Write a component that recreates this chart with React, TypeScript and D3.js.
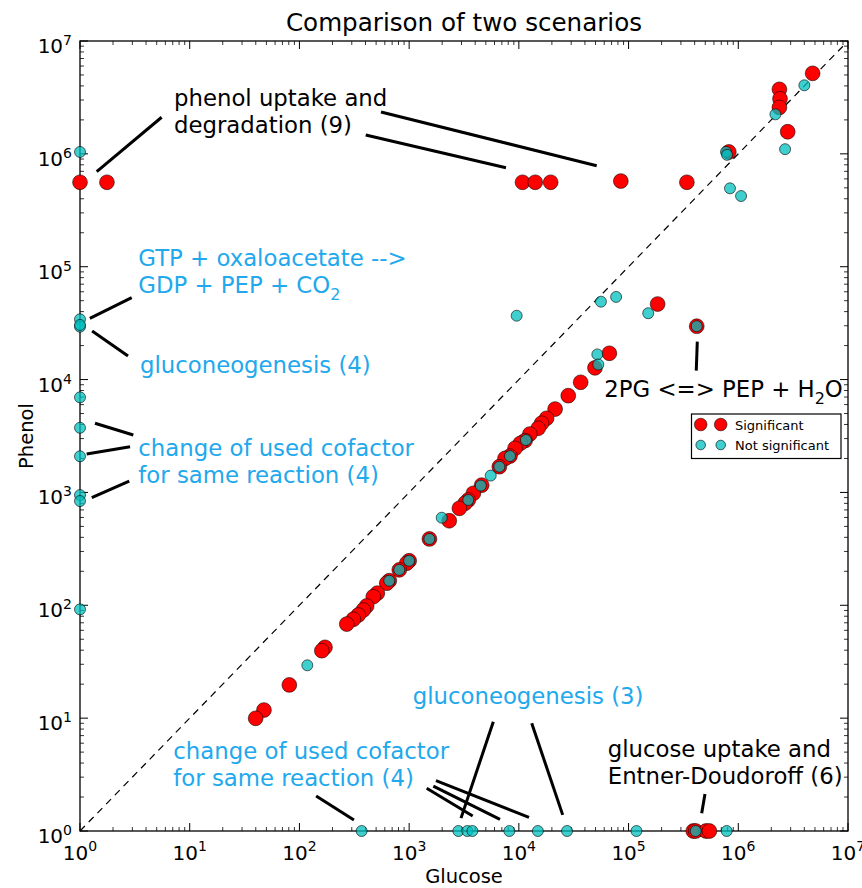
import React from "react";
import * as d3 from "d3";

// ---- data ----
const significant: [number, number][] = [
  [1, 5.6e5], [1.76, 5.6e5],
  [1.08e4, 5.6e5], [1.41e4, 5.6e5], [1.95e4, 5.6e5], [8.5e4, 5.74e5], [3.4e5, 5.6e5],
  [8.2e5, 1.04e6],
  [2.37e6, 3.73e6], [2.4e6, 3.08e6], [2.37e6, 2.58e6], [2.82e6, 1.57e6], [4.76e6, 5.17e6],
  [1.84e5, 4.67e4], [4.18e5, 2.97e4],
  [66800, 17100], [49400, 12700], [36600, 9460], [28200, 7200], [21400, 5480],
  [17900, 4540], [16100, 4100], [15000, 3700], [12600, 3290], [11400, 2880], [10300, 2720],
  [9230, 2460], [8300, 2100], [7480, 2000], [6640, 1690], [4580, 1160], [3850, 982],
  [3460, 857], [3230, 801], [2870, 723], [2320, 561], [1530, 387], [1000, 248],
  [951, 236], [813, 206], [659, 165], [625, 157], [513, 128], [471, 119],
  [410, 98.6], [382, 90.8], [344, 82], [310, 75.2], [270, 68.2], [171, 42.4],
  [160, 39.6], [80.9, 19.7], [47.5, 11.8], [39.9, 9.97],
  [3.89e5, 1], [4.09e5, 1], [5.08e5, 1], [5.45e5, 1],
];

const notSignificant: [number, number][] = [
  [1, 1.04e6], [1, 34200], [1, 29400], [1, 30500], [1, 6960], [1, 3740], [1, 2090],
  [1, 948], [1, 839], [1, 92],
  [7.73e5, 1.04e6], [7.9e5, 9.8e5], [8.4e5, 4.95e5], [1.06e6, 4.23e5],
  [2.18e6, 2.24e6], [2.67e6, 1.1e6], [4.0e6, 4.05e6],
  [9550, 36800], [5.6e4, 4.9e4], [7.7e4, 5.4e4], [1.51e5, 3.87e4], [4.18e5, 2.97e4],
  [51900, 16700], [53000, 13600], [11600, 2910], [8300, 2100], [6640, 1690],
  [5540, 1410], [4500, 1150], [3460, 857], [1980, 597], [1530, 387], [1000, 248],
  [813, 206], [659, 165], [118, 29.4],
  [369, 1], [2810, 1], [3390, 1], [3770, 1], [8190, 1], [14900, 1], [27500, 1],
  [1.18e5, 1], [4.09e5, 1], [7.84e5, 1],
];

const decades = [0, 1, 2, 3, 4, 5, 6, 7];

type Label = { x: number; y: number; lines: string[][]; color: string };
const BLACK = "#000000";
const BLUE = "#22a8ec";

// each line is list of segments; segment "_2" means subscript
const labels: Label[] = [
  { x: 7.19, y: 2.65e6, lines: [["phenol uptake and"], ["degradation (9)"]], color: BLACK },
  { x: 3.4, y: 1.01e5, lines: [["GTP + oxaloacetate -->"], ["GDP + PEP + CO", "_2"]], color: BLUE },
  { x: 3.52, y: 11370, lines: [["gluconeogenesis (4)"]], color: BLUE },
  { x: 3.4, y: 2100, lines: [["change of used cofactor"], ["for same reaction (4)"]], color: BLUE },
  { x: 60100, y: 6960, lines: [["2PG <=> PEP + H", "_2", "O"]], color: BLACK },
  { x: 1078, y: 13.3, lines: [["gluconeogenesis (3)"]], color: BLUE },
  { x: 7.09, y: 4.35, lines: [["change of used cofactor"], ["for same reaction (4)"]], color: BLUE },
  { x: 64600, y: 4.55, lines: [["glucose uptake and"], ["Entner-Doudoroff (6)"]], color: BLACK },
];

const pointers: [number, number, number, number][] = [
  [1.42, 6.95e5, 5.55, 2.11e6],
  [554, 2.35e6, 51200, 7.85e5],
  [402, 1.47e6, 7630, 7.54e5],
  [2.96, 53200, 1.23, 34900],
  [1.29, 26900, 2.74, 16200],
  [1.37, 4100, 3.06, 3230],
  [1.15, 2190, 2.86, 2540],
  [1.28, 898, 2.81, 1262],
  [4.23e5, 21700, 4.14e5, 12000],
  [5850, 9.3, 2970, 1.3],
  [13100, 9.0, 25100, 1.39],
  [142, 2.04, 314, 1.25],
  [1757, 2.79, 12370, 1.32],
  [1661, 2.5, 6730, 1.27],
  [1445, 2.39, 3795, 1.36],
  [4.97e5, 2.13, 4.64e5, 1.44],
];

const legendItems = ["Significant", "Not significant"];

const FONT = "'DejaVu Sans', Verdana, sans-serif";

export default function App() {
  const W = 862, H = 888;
  const L = 80, R = 848, T = 41, B = 831;
  const x = d3.scaleLog().domain([1, 1e7]).range([L, R]);
  const y = d3.scaleLog().domain([1, 1e7]).range([B, T]);

  const minors: number[] = [];
  for (let k = 0; k < 7; k++) for (let m = 2; m <= 9; m++) minors.push(m * Math.pow(10, k));

  const redFill = "#ff0000";
  const cyanFill = "#00bfbf";

  return (
    <div style={{ position: "absolute", left: 0, top: 0 }}>
      <svg width={W} height={H} style={{ display: "block", fontFamily: FONT }}>
        <rect x={0} y={0} width={W} height={H} fill="#fff" />
        {/* title */}
        <text x={(L + R) / 2} y={31} fontSize={24.6} textAnchor="middle">Comparison of two scenarios</text>
        {/* axis labels */}
        <text x={(L + R) / 2} y={883} fontSize={19.5} textAnchor="middle">Glucose</text>
        <text transform={`translate(33,${(T + B) / 2}) rotate(-90)`} fontSize={19.5} textAnchor="middle">Phenol</text>

        {/* diagonal */}
        <line x1={x(1)} y1={y(1)} x2={x(1e7)} y2={y(1e7)} stroke="#000" strokeWidth={1.2} strokeDasharray="7,5.5" />

        {/* ticks */}
        {decades.map((d) => {
          const v = Math.pow(10, d);
          return (
            <g key={"maj" + d} stroke="#000" strokeWidth={1}>
              <line x1={x(v)} x2={x(v)} y1={B} y2={B - 8} />
              <line x1={x(v)} x2={x(v)} y1={T} y2={T + 8} />
              <line x1={L} x2={L + 8} y1={y(v)} y2={y(v)} />
              <line x1={R} x2={R - 8} y1={y(v)} y2={y(v)} />
            </g>
          );
        })}
        {minors.map((v, i) => (
          <g key={"min" + i} stroke="#000" strokeWidth={0.8}>
            <line x1={x(v)} x2={x(v)} y1={B} y2={B - 4} />
            <line x1={x(v)} x2={x(v)} y1={T} y2={T + 4} />
            <line x1={L} x2={L + 4} y1={y(v)} y2={y(v)} />
            <line x1={R} x2={R - 4} y1={y(v)} y2={y(v)} />
          </g>
        ))}
        {/* tick labels */}
        {decades.map((d) => (
          <text key={"xl" + d} x={x(Math.pow(10, d))} y={860} fontSize={20} textAnchor="middle" fill="#000">
            10<tspan fontSize={14} dy={-9}>{d}</tspan>
          </text>
        ))}
        {decades.map((d) => (
          <text key={"yl" + d} x={72} y={y(Math.pow(10, d)) + 12} fontSize={20} textAnchor="end" fill="#000">
            10<tspan fontSize={14} dy={-8}>{d}</tspan>
          </text>
        ))}

        {/* frame */}
        <rect x={L} y={T} width={R - L} height={B - T} fill="none" stroke="#000" strokeWidth={1.3} />

        {/* points */}
        {significant.map((p, i) => (
          <circle key={"s" + i} cx={x(p[0])} cy={y(p[1])} r={7.4} fill={redFill} stroke="#000" strokeOpacity={0.55} strokeWidth={1} />
        ))}
        {notSignificant.map((p, i) => (
          <circle key={"n" + i} cx={x(p[0])} cy={y(p[1])} r={5.5} fill={cyanFill} fillOpacity={0.75} stroke="#000" strokeOpacity={0.6} strokeWidth={1} />
        ))}

        {/* pointer lines */}
        {pointers.map((p, i) => (
          <line key={"pl" + i} x1={x(p[0])} y1={y(p[1])} x2={x(p[2])} y2={y(p[3])} stroke="#000" strokeWidth={3} />
        ))}

        {/* annotation labels */}
        {labels.map((lb, i) =>
          lb.lines.map((line, j) => (
            <text key={"lb" + i + "_" + j} x={x(lb.x)} y={y(lb.y) + j * 27} fontSize={22.8} fill={lb.color}>
              {line.map((seg, k) =>
                seg.startsWith("_") ? (
                  <tspan key={k} fontSize={16} dy={7}>{seg.slice(1)}</tspan>
                ) : k > 0 ? (
                  <tspan key={k} dy={-7}>{seg}</tspan>
                ) : (
                  <tspan key={k}>{seg}</tspan>
                )
              )}
            </text>
          ))
        )}

        {/* legend */}
        <g>
          <rect x={691.5} y={414} width={149.5} height={44.5} fill="#fff" stroke="#000" strokeWidth={1.2} />
          <circle cx={700.7} cy={424.5} r={6.3} fill={redFill} stroke="#000" strokeOpacity={0.55} />
          <circle cx={720.7} cy={424.5} r={6.3} fill={redFill} stroke="#000" strokeOpacity={0.55} />
          <circle cx={700.7} cy={445} r={4.8} fill={cyanFill} fillOpacity={0.75} stroke="#000" strokeOpacity={0.6} />
          <circle cx={720.7} cy={445} r={4.8} fill={cyanFill} fillOpacity={0.75} stroke="#000" strokeOpacity={0.6} />
          <text x={735} y={429.5} fontSize={13}>{legendItems[0]}</text>
          <text x={735} y={449.5} fontSize={13}>{legendItems[1]}</text>
        </g>
      </svg>
    </div>
  );
}
